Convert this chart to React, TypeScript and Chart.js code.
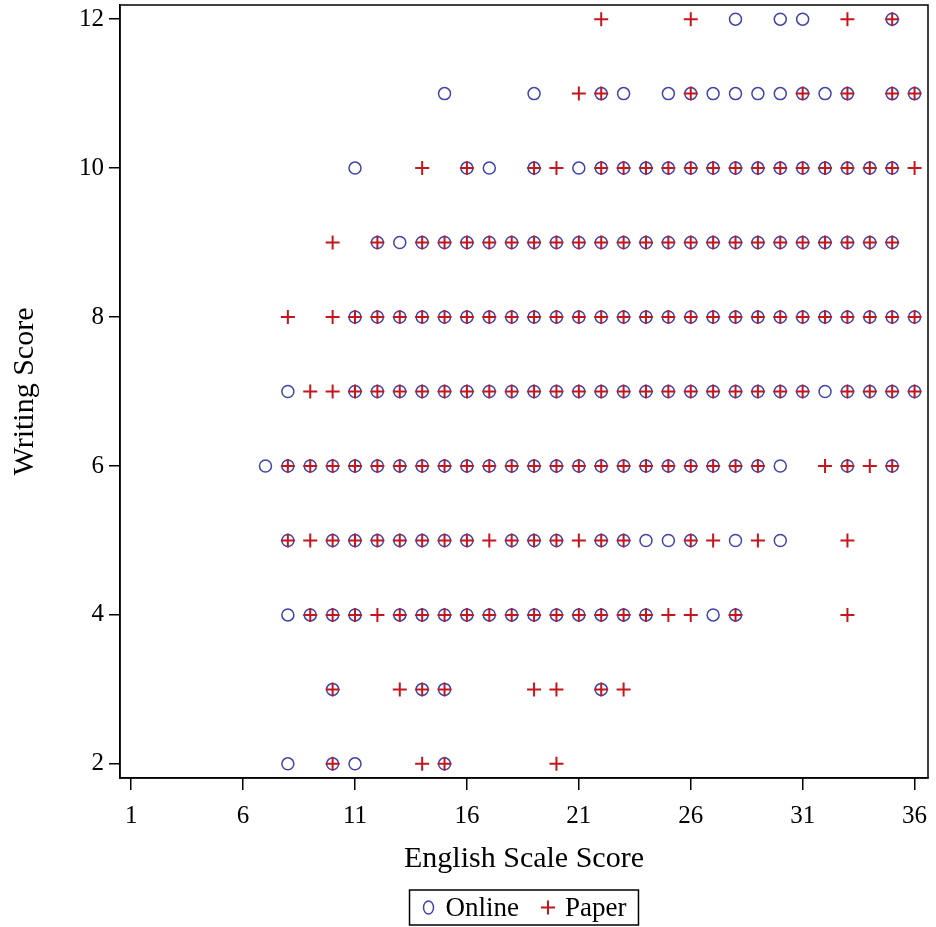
import { useEffect, useRef } from 'react';
import { Chart, registerables } from 'chart.js';

Chart.register(...registerables);

// Writing score rows (y), each with the English scale scores (x) where a point appears
const writingScores = [12, 11, 10, 9, 8, 7, 6, 5, 4, 3, 2];

const onlineEnglish = [
  [28, 30, 31, 35],
  [15, 19, 22, 23, 25, 26, 27, 28, 29, 30, 31, 32, 33, 35, 36],
  [11, 16, 17, 19, 21, 22, 23, 24, 25, 26, 27, 28, 29, 30, 31, 32, 33, 34, 35],
  [12, 13, 14, 15, 16, 17, 18, 19, 20, 21, 22, 23, 24, 25, 26, 27, 28, 29, 30, 31, 32, 33, 34, 35],
  [11, 12, 13, 14, 15, 16, 17, 18, 19, 20, 21, 22, 23, 24, 25, 26, 27, 28, 29, 30, 31, 32, 33, 34, 35, 36],
  [8, 11, 12, 13, 14, 15, 16, 17, 18, 19, 20, 21, 22, 23, 24, 25, 26, 27, 28, 29, 30, 31, 32, 33, 34, 35, 36],
  [7, 8, 9, 10, 11, 12, 13, 14, 15, 16, 17, 18, 19, 20, 21, 22, 23, 24, 25, 26, 27, 28, 29, 30, 33, 35],
  [8, 10, 11, 12, 13, 14, 15, 16, 18, 19, 20, 22, 23, 24, 25, 26, 28, 30],
  [8, 9, 10, 11, 13, 14, 15, 16, 17, 18, 19, 20, 21, 22, 23, 24, 27, 28],
  [10, 14, 15, 22],
  [8, 10, 11, 15],
];

const paperEnglish = [
  [22, 26, 33, 35],
  [21, 22, 26, 31, 33, 35, 36],
  [14, 16, 19, 20, 22, 23, 24, 25, 26, 27, 28, 29, 30, 31, 32, 33, 34, 35, 36],
  [10, 12, 14, 15, 16, 17, 18, 19, 20, 21, 22, 23, 24, 25, 26, 27, 28, 29, 30, 31, 32, 33, 34, 35],
  [8, 10, 11, 12, 13, 14, 15, 16, 17, 18, 19, 20, 21, 22, 23, 24, 25, 26, 27, 28, 29, 30, 31, 32, 33, 34, 35, 36],
  [9, 10, 11, 12, 13, 14, 15, 16, 17, 18, 19, 20, 21, 22, 23, 24, 25, 26, 27, 28, 29, 30, 31, 33, 34, 35, 36],
  [8, 9, 10, 11, 12, 13, 14, 15, 16, 17, 18, 19, 20, 21, 22, 23, 24, 25, 26, 27, 28, 29, 32, 33, 34, 35],
  [8, 9, 10, 11, 12, 13, 14, 15, 16, 17, 18, 19, 20, 21, 22, 23, 26, 27, 29, 33],
  [9, 10, 11, 12, 13, 14, 15, 16, 17, 18, 19, 20, 21, 22, 23, 24, 25, 26, 28, 33],
  [10, 13, 14, 15, 19, 20, 22, 23],
  [10, 14, 15, 20],
];

const xTicks = [1, 6, 11, 16, 21, 26, 31, 36];
const yTicks = [2, 4, 6, 8, 10, 12];
const seriesNames = ['Online', 'Paper'];
const xTitle = 'English Scale Score';
const yTitle = 'Writing Score';

const BLUE = '#4044aa';
const RED = '#c4161c';
const FONT = "'Liberation Serif', 'DejaVu Serif', serif";

function toPoints(rows: number[][]) {
  const pts: { x: number; y: number }[] = [];
  rows.forEach((xs, i) => {
    xs.forEach((x) => pts.push({ x, y: writingScores[i] }));
  });
  return pts;
}

const frameAndLegend = {
  id: 'frameAndLegend',
  afterDraw(chart: any) {
    const { ctx, chartArea } = chart;
    ctx.save();
    ctx.strokeStyle = '#000';
    ctx.lineWidth = 1.5;
    ctx.strokeRect(chartArea.left, chartArea.top, chartArea.right - chartArea.left, chartArea.bottom - chartArea.top);

    // legend
    ctx.font = `27px ${FONT}`;
    const padX = 12;
    const marker = 14;
    const gap = 10;
    const between = 22;
    const w0 = ctx.measureText(seriesNames[0]).width;
    const w1 = ctx.measureText(seriesNames[1]).width;
    const total = padX + marker + gap + w0 + between + marker + gap + w1 + padX;
    const cx = (chartArea.left + chartArea.right) / 2;
    const left = cx - total / 2;
    const top = chart.height - 37;
    const h = 35;
    ctx.lineWidth = 1.5;
    ctx.strokeStyle = '#000';
    ctx.strokeRect(left, top, total, h);
    const my = top + h / 2;
    let x = left + padX;
    ctx.strokeStyle = BLUE;
    ctx.lineWidth = 1.5;
    ctx.beginPath();
    ctx.ellipse(x + marker / 2, my, 5, 6.5, 0, 0, Math.PI * 2);
    ctx.stroke();
    x += marker + gap;
    ctx.fillStyle = '#000';
    ctx.textBaseline = 'middle';
    ctx.textAlign = 'left';
    ctx.fillText(seriesNames[0], x, my + 1);
    x += w0 + between;
    ctx.strokeStyle = RED;
    ctx.lineWidth = 2;
    ctx.beginPath();
    ctx.moveTo(x, my);
    ctx.lineTo(x + marker, my);
    ctx.moveTo(x + marker / 2, my - marker / 2);
    ctx.lineTo(x + marker / 2, my + marker / 2);
    ctx.stroke();
    x += marker + gap;
    ctx.fillText(seriesNames[1], x, my + 1);
    ctx.restore();
  },
};

export default function App() {
  const ref = useRef<HTMLCanvasElement | null>(null);

  useEffect(() => {
    document.body.style.margin = '0';
    if (!ref.current) return;
    const chart = new Chart(ref.current, {
      type: 'scatter',
      data: {
        datasets: [
          {
            label: seriesNames[0],
            data: toPoints(onlineEnglish),
            pointStyle: 'circle',
            pointRadius: 6,
            pointBorderWidth: 1.5,
            borderColor: BLUE,
            backgroundColor: 'rgba(0,0,0,0)',
            pointBackgroundColor: 'rgba(0,0,0,0)',
            pointBorderColor: BLUE,
            order: 1,
          },
          {
            label: seriesNames[1],
            data: toPoints(paperEnglish),
            pointStyle: 'cross',
            pointRadius: 7,
            pointBorderWidth: 2,
            borderColor: RED,
            backgroundColor: RED,
            pointBorderColor: RED,
            order: 0,
          },
        ],
      },
      options: {
        animation: false,
        responsive: false,
        maintainAspectRatio: false,
        layout: { autoPadding: false, padding: { left: 0, right: 8, top: 5, bottom: 45 } },
        plugins: {
          legend: { display: false },
          tooltip: { enabled: false },
        },
        scales: {
          x: {
            type: 'linear',
            min: 0.5,
            max: 36.6,
            afterBuildTicks: (s: any) => {
              s.ticks = xTicks.map((v) => ({ value: v }));
            },
            afterFit: (s: any) => {
              s.height = 104;
              s.paddingLeft = 0;
              s.paddingRight = 0;
            },
            grid: { display: true, drawOnChartArea: false, drawTicks: true, tickLength: 12, color: '#000', lineWidth: 1.5 },
            border: { display: true, color: '#000', width: 1.5 },
            ticks: { color: '#000', font: { family: FONT, size: 25 }, padding: 11, maxRotation: 0, autoSkip: false },
            title: { display: true, text: xTitle, color: '#000', font: { family: FONT, size: 30 }, padding: { top: 0, bottom: 5 } },
          },
          y: {
            type: 'linear',
            min: 1.81,
            max: 12.19,
            afterBuildTicks: (s: any) => {
              s.ticks = yTicks.map((v) => ({ value: v }));
            },
            afterFit: (s: any) => {
              s.width = 120;
              s.paddingTop = 0;
              s.paddingBottom = 0;
            },
            grid: { display: true, drawOnChartArea: false, drawTicks: true, tickLength: 11, color: '#000', lineWidth: 1.5 },
            border: { display: true, color: '#000', width: 1.5 },
            ticks: { color: '#000', font: { family: FONT, size: 25 }, padding: 5, autoSkip: false },
            title: { display: true, text: yTitle, color: '#000', font: { family: FONT, size: 30 }, padding: { top: 7, bottom: 0 } },
          },
        },
      },
      plugins: [frameAndLegend],
    });
    return () => chart.destroy();
  }, []);

  return (
    <div style={{ width: 936, height: 927 }}>
      <canvas ref={ref} width={936} height={927} style={{ display: 'block', width: 936, height: 927 }} />
    </div>
  );
}
